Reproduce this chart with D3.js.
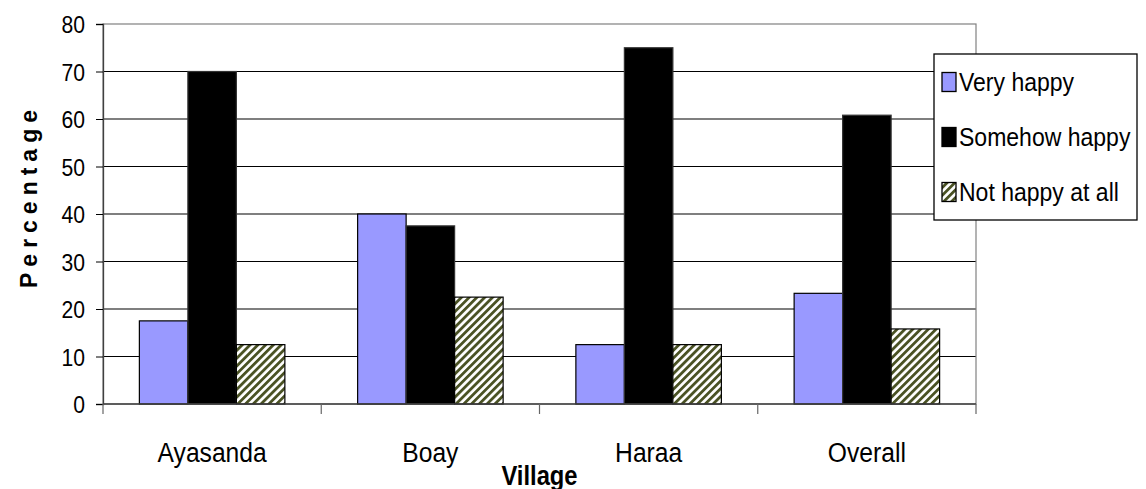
<!DOCTYPE html>
<html>
<head>
<meta charset="utf-8">
<script src="https://cdn.jsdelivr.net/npm/d3@7"></script>
<style>
  html, body { margin: 0; padding: 0; background: #fff; }
  svg { display: block; font-family: "Liberation Sans", Arial, sans-serif; }
</style>
</head>
<body>
<svg id="chart" width="1146" height="489"></svg>
<script>
// ---- data ----
const categories = ["Ayasanda", "Boay", "Haraa", "Overall"];
const seriesNames = ["Very happy", "Somehow happy", "Not happy at all"];
const veryHappy = [17.5, 40, 12.5, 23.3];
const somehowHappy = [70, 37.5, 75, 60.8];
const notHappy = [12.5, 22.5, 12.5, 15.8];
const yTicks = [0, 10, 20, 30, 40, 50, 60, 70, 80];
const yTitle = "Percentage";
const xTitle = "Village";

const seriesValues = [veryHappy, somehowHappy, notHappy];

// ---- layout ----
const svg = d3.select("#chart");
const plotLeft = 103, plotRight = 976, plotTop = 24, plotBottom = 404;

const defs = svg.append("defs");
const pat = defs.append("pattern")
  .attr("id", "hatch").attr("patternUnits", "userSpaceOnUse")
  .attr("width", 5.5).attr("height", 5.5)
  .attr("patternTransform", "rotate(45)");
pat.append("rect").attr("width", 5.5).attr("height", 5.5).attr("fill", "#ffffff");
pat.append("rect").attr("width", 2.8).attr("height", 5.5).attr("fill", "#4a5224");

const fills = ["#9999ff", "#000000", "url(#hatch)"];

const x0 = d3.scaleBand().domain(categories).range([plotLeft, plotRight]).padding(0);
const x1 = d3.scaleBand().domain(seriesNames).range([0, x0.bandwidth()])
  .paddingInner(0).paddingOuter(0.75);
const y = d3.scaleLinear().domain([0, 80]).range([plotBottom, plotTop]);

// gridlines
svg.append("g").selectAll("line")
  .data(yTicks.filter(t => t > 0 && t < 80))
  .join("line")
  .attr("x1", plotLeft).attr("x2", plotRight)
  .attr("y1", d => y(d)).attr("y2", d => y(d))
  .attr("stroke", "#000").attr("stroke-width", 1.2);

// plot area border (gray)
svg.append("rect")
  .attr("x", plotLeft).attr("y", y(80))
  .attr("width", plotRight - plotLeft).attr("height", plotBottom - y(80))
  .attr("fill", "none").attr("stroke", "#808080").attr("stroke-width", 1.2);

// bars
const groups = svg.append("g").selectAll("g")
  .data(categories)
  .join("g")
  .attr("transform", d => `translate(${x0(d)},0)`);

groups.selectAll("rect")
  .data((c, i) => seriesNames.map((s, k) => ({ s, k, v: seriesValues[k][i] })))
  .join("rect")
  .attr("x", d => x1(d.s))
  .attr("width", x1.bandwidth())
  .attr("y", d => y(d.v))
  .attr("height", d => y(0) - y(d.v))
  .attr("fill", d => fills[d.k])
  .attr("stroke", d => d.k === 1 ? "#333" : "#000")
  .attr("stroke-width", 1.2);

// y axis
const yAxis = d3.axisLeft(y).tickValues(yTicks).tickSize(7).tickPadding(11).tickFormat(d3.format("d"));
const ga = svg.append("g").attr("transform", `translate(${plotLeft},0)`).call(yAxis);
ga.select(".domain").attr("stroke", "#404040").attr("stroke-width", 1.3);
ga.selectAll(".tick line").attr("stroke", "#000");
ga.selectAll(".tick text")
  .attr("font-size", 24).attr("fill", "#000")
  .attr("font-family", "Liberation Sans, Arial, sans-serif")
  .attr("dy", "0.36em")
  .attr("transform", function() {
    const xx = +d3.select(this).attr("x");
    return `translate(${xx * 0.12},0) scale(0.88,1)`;
  });

// x axis
const xAxisLine = svg.append("g");
xAxisLine.append("line").attr("x1", plotLeft).attr("x2", plotRight)
  .attr("y1", plotBottom).attr("y2", plotBottom)
  .attr("stroke", "#404040").attr("stroke-width", 1.3);
const xTickPos = categories.map(c => x0(c)).concat([plotRight]);
xAxisLine.selectAll("line.tk").data(xTickPos).join("line").attr("class", "tk")
  .attr("x1", d => d).attr("x2", d => d)
  .attr("y1", plotBottom).attr("y2", plotBottom + 10)
  .attr("stroke", "#666").attr("stroke-width", 1.2);

function sqText(g, txt, x, yy, size, sx, anchor, weight) {
  return g.append("text")
    .attr("transform", `translate(${x},${yy}) scale(${sx},1)`)
    .attr("text-anchor", anchor)
    .attr("font-size", size)
    .attr("font-weight", weight || "normal")
    .attr("fill", "#000")
    .text(txt);
}

categories.forEach(c => {
  sqText(svg, c, x0(c) + x0.bandwidth() / 2, 462, 28, 0.88, "middle");
});

// axis titles
sqText(svg, xTitle, (plotLeft + plotRight) / 2, 485, 27, 0.88, "middle", "bold");
svg.append("text")
  .attr("transform", `translate(37,196) rotate(-90)`)
  .attr("text-anchor", "middle")
  .attr("font-size", 23).attr("font-weight", "bold")
  .attr("letter-spacing", 6)
  .text(yTitle);

// legend
const lg = svg.append("g");
lg.append("rect").attr("x", 934).attr("y", 54).attr("width", 203).attr("height", 166)
  .attr("fill", "#fff").attr("stroke", "#000").attr("stroke-width", 1.3);
seriesNames.forEach((s, k) => {
  const cy = 82 + k * 55;
  lg.append("rect").attr("x", 942).attr("y", cy - 9.5).attr("width", 14).attr("height", 19)
    .attr("fill", fills[k]).attr("stroke", "#000").attr("stroke-width", 1.3);
  sqText(lg, s, 959, cy + 9, 26, 0.885, "start");
});
</script>
</body>
</html>
